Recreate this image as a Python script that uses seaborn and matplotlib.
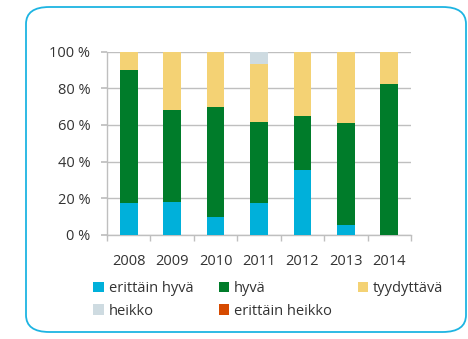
import numpy as np
import pandas as pd
import matplotlib
matplotlib.use("Agg")
import matplotlib.pyplot as plt
from matplotlib.patches import FancyBboxPatch, Patch
from matplotlib.ticker import FixedLocator
import seaborn as sns

years = ["2008", "2009", "2010", "2011", "2012", "2013", "2014"]
categories = ["erittäin hyvä", "hyvä", "tyydyttävä", "heikko", "erittäin heikko"]
erittain_hyva = [17.3, 18.0, 9.8, 17.4, 35.4, 5.4, 0.0]
hyva = [72.5, 50.3, 60.1, 44.4, 29.5, 55.8, 82.5]
tyydyttava = [10.2, 31.7, 30.1, 31.6, 35.1, 38.8, 17.5]
heikko = [0.0, 0.0, 0.0, 6.6, 0.0, 0.0, 0.0]
erittain_heikko = [0.0, 0.0, 0.0, 0.0, 0.0, 0.0, 0.0]
colors = ["#00B0DA", "#007C2A", "#F4D274", "#CEDBE1", "#D64A00"]

series = [erittain_hyva, hyva, tyydyttava, heikko, erittain_heikko]
df = pd.DataFrame({c: s for c, s in zip(categories, series)})
df["year"] = years
cum = df[categories].cumsum(axis=1)

sns.set_theme(style="white")
plt.rcParams["font.family"] = ["Open Sans", "DejaVu Sans"]

fig = plt.figure(figsize=(4.68, 3.39), dpi=100)

# rounded frame around the whole chart
frame = FancyBboxPatch((26 / 468, 7 / 339), 440 / 468, 325 / 339,
                       boxstyle="round,pad=0,rounding_size=0.05",
                       transform=fig.transFigure, facecolor="none",
                       edgecolor="#1DB4E2", linewidth=1.3, zorder=-1)
fig.patches.append(frame)

ax = fig.add_axes([107 / 468, 1 - 235 / 339, 304 / 468, 183.5 / 339])
ax.set_facecolor("none")

# stacked bars: draw cumulative tops from the highest layer down
for cat, col in reversed(list(zip(categories, colors))):
    sns.barplot(x=df["year"], y=cum[cat], color=col, width=0.41,
                saturation=1, ax=ax, zorder=3, linewidth=0)

ax.set_xlim(-0.5, 6.5)
ax.set_ylim(0, 100)
ax.set_yticks(np.arange(0, 101, 20))
ax.set_yticklabels([f"{v} %" for v in range(0, 101, 20)])
ax.yaxis.grid(True, color="#BFBFBF", linewidth=1, zorder=0)
ax.set_axisbelow(True)
ax.set_xlabel("")
ax.set_ylabel("")

for s in ["top", "right"]:
    ax.spines[s].set_visible(False)
for s in ["left", "bottom"]:
    ax.spines[s].set_color("#BFBFBF")
    ax.spines[s].set_linewidth(1)

ax.tick_params(axis="y", left=True, length=4, color="#BFBFBF", pad=8,
               labelsize=10.5, labelcolor="#333333")
ax.tick_params(axis="x", which="major", length=0, pad=14,
               labelsize=10.5, labelcolor="#333333")
ax.xaxis.set_minor_locator(FixedLocator(np.arange(-0.5, 7, 1)))
ax.tick_params(axis="x", which="minor", bottom=True, length=4,
               color="#BFBFBF", width=1)

handles = [Patch(facecolor=c, edgecolor="none") for c in colors]
order = [0, 3, 1, 4, 2]
fig.legend([handles[i] for i in order], [categories[i] for i in order],
           ncol=3, loc="upper left", bbox_to_anchor=(89 / 468, 1 - 277 / 339),
           frameon=False, fontsize=10.5, handlelength=0.7, handleheight=0.7,
           handletextpad=0.35, columnspacing=1.75, labelspacing=0.5,
           borderaxespad=0, borderpad=0.3, labelcolor="#333333")

fig.savefig("out.png", dpi=100)
